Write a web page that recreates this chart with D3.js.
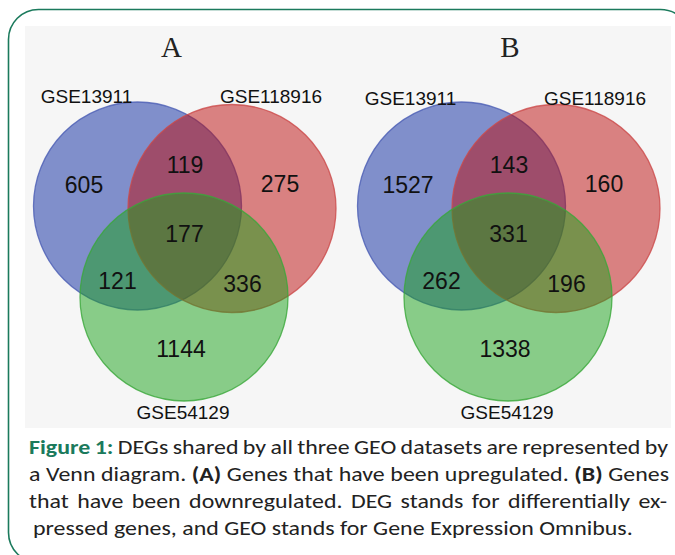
<!DOCTYPE html>
<html><head><meta charset="utf-8">
<script src="https://cdn.jsdelivr.net/npm/d3@7"></script>
<style>html,body{margin:0;padding:0;background:#fff;}svg{display:block;}</style>
</head><body>
<svg id="c" width="675" height="555"></svg>
<script>
// ---- data ----
const sets = ["GSE13911", "GSE118916", "GSE54129"];
const regions = ["1", "2", "3", "1&2", "1&3", "2&3", "1&2&3"];
const countsA = [605, 275, 1144, 119, 121, 336, 177];
const countsB = [1527, 160, 1338, 143, 262, 196, 331];
const panelTitles = ["A", "B"];
const captionLines = [
  [{t: "Figure 1:", b: 1, c: 1}, {t: " DEGs shared by all three GEO datasets are represented by"}],
  [{t: "a Venn diagram. "}, {t: "(A)", b: 1}, {t: " Genes that have been upregulated. "}, {t: "(B)", b: 1}, {t: " Genes"}],
  [{t: "that have been downregulated. DEG stands for differentially ex-"}],
  [{t: "pressed genes, and GEO stands for Gene Expression Omnibus."}]
];

// ---- layout ----
const svg = d3.select("#c");
const teal = "#1b7a5c";
const setColors = ["#0a28a0", "#bb0c0c", "#1aa11a"];
const strokeColors = ["#4a5cb4", "#cc4a4a", "#3aa83a"];

svg.append("rect").attr("x", 8.5).attr("y", 9.5).attr("width", 682).attr("height", 553)
  .attr("rx", 30).attr("fill", "none").attr("stroke", teal).attr("stroke-width", 1.6);
svg.append("rect").attr("x", 25).attr("y", 26).attr("width", 646).attr("height", 402).attr("fill", "#f6f6f6");

const circleLayout = [{cx: 137.5, cy: 206}, {cx: 232, cy: 208.5}, {cx: 184, cy: 297}];
const radius = 104;
const regionPos = {"1": [84, 193], "2": [280, 191.5], "3": [181, 356.5], "1&2": [185, 173],
  "1&3": [117.5, 289], "2&3": [242.5, 291.5], "1&2&3": [184.5, 242]};
const setLabelPos = [[86.5, 103], [271, 103], [183, 419]];
const panels = [{dx: 0, titleX: 171.5}, {dx: 324, titleX: 510}];

const x = d3.scaleLinear().domain([0, 1]).range([0, 1]);
const y = d3.scaleLinear().domain([0, 1]).range([0, 1]);

[countsA, countsB].forEach((counts, pi) => {
  const p = panels[pi];
  const g = svg.append("g").attr("transform", `translate(${p.dx},0)`);
  g.selectAll("circle.f").data(sets).join("circle").attr("class", "f")
    .attr("cx", (d, i) => x(circleLayout[i].cx)).attr("cy", (d, i) => y(circleLayout[i].cy))
    .attr("r", radius).attr("fill", (d, i) => setColors[i]).attr("fill-opacity", 0.5)
    .attr("stroke", (d, i) => strokeColors[i]).attr("stroke-width", 1.3).attr("stroke-opacity", 0.8);
  g.selectAll("text.n").data(regions).join("text").attr("class", "n")
    .attr("x", d => x(regionPos[d][0])).attr("y", d => y(regionPos[d][1]))
    .attr("text-anchor", "middle").attr("font-family", "Liberation Sans, Arial, sans-serif")
    .attr("font-size", 23).attr("fill", "#111")
    .text((d, i) => counts[i]);
  g.selectAll("text.s").data(sets).join("text").attr("class", "s")
    .attr("x", (d, i) => x(setLabelPos[i][0])).attr("y", (d, i) => y(setLabelPos[i][1]) + (pi === 1 && i < 2 ? 2 : 0))
    .attr("text-anchor", "middle").attr("font-family", "Liberation Sans, Arial, sans-serif")
    .attr("font-size", 19).attr("fill", "#111").text(d => d);
  svg.append("text").attr("x", p.titleX).attr("y", 57).attr("text-anchor", "middle")
    .attr("font-family", "Liberation Serif, Times New Roman, serif").attr("font-size", 29)
    .attr("fill", "#222").text(panelTitles[pi]);
});

// caption
const capX = [29, 29, 29, 33];
const capRight = [668, 669, 667, 633];
const capY = [454, 481, 508, 535];
const capTexts = captionLines.map(segs => {
  const t = svg.append("text").attr("transform", "")
    .attr("font-family", "Carlito, Lato, sans-serif").attr("font-size", 21).attr("fill", "#222")
    .attr("xml:space", "preserve");
  segs.forEach(s => {
    t.append("tspan").attr("font-weight", s.b ? "bold" : null).attr("fill", s.c ? teal : null).text(s.t);
  });
  return t;
});
// horizontal stretch from the last (unjustified) line
const k = (capRight[3] - capX[3]) / capTexts[3].node().getComputedTextLength();
capTexts.forEach((t, li) => {
  t.attr("transform", `translate(${capX[li]},${capY[li]}) scale(${k},1)`);
  if (li < 3) {
    const w = t.node().getComputedTextLength();
    const n = captionLines[li].map(s => s.t).join("").split(" ").length - 1;
    const target = (capRight[li] - capX[li]) / k;
    t.attr("word-spacing", (target - w) / n);
  }
});
</script>
</body></html>
